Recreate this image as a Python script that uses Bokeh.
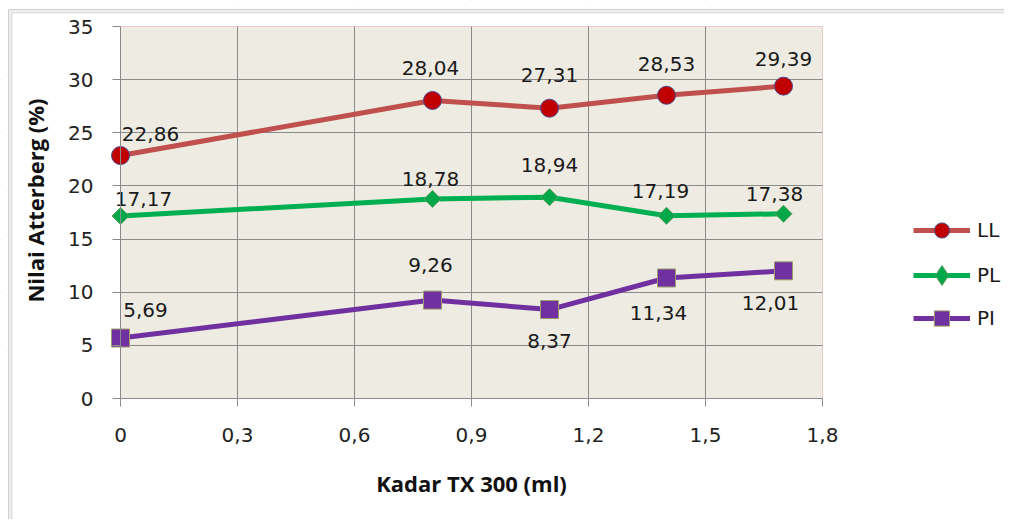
from bokeh.plotting import figure
from bokeh.models import (ColumnDataSource, FixedTicker, Legend, LegendItem, Range1d,
                          BoxAnnotation, LinearAxis)
from bokeh.embed import file_html
from bokeh.resources import INLINE
from bokeh.core.properties import value
import math

# ---- data ----
kadar = [0, 0.8, 1.1, 1.4, 1.7]
LL = [22.86, 28.04, 27.31, 28.53, 29.39]
PL = [17.17, 18.78, 18.94, 17.19, 17.38]
PI = [5.69, 9.26, 8.37, 11.34, 12.01]
x_ticks = [0, 0.3, 0.6, 0.9, 1.2, 1.5, 1.8]
x_tick_labels = ["0", "0,3", "0,6", "0,9", "1,2", "1,5", "1,8"]
y_ticks = [0, 5, 10, 15, 20, 25, 30, 35]
X_MIN, X_MAX, Y_MIN, Y_MAX = 0, 1.8, 0, 35

# label placement (pixel offsets, layout only)
LL_off = [(30, -22), (-2, -32), (0, -33), (0, -31), (0, -27)]
PL_off = [(23, -17), (-2, -20), (0, -32), (-6, -25), (-9, -20)]
PI_off = [(25, -28), (-2, -35), (0, 31), (-8, 35), (-13, 32)]

def fmt(v):
    return f"{v:.2f}".replace(".", ",")

# ---- layout geometry (canvas pixels) ----
W, H = 1004, 519
PLOT_L, PLOT_R = 120, 822
PLOT_T, PLOT_B = 26, 398
kx = (PLOT_R - PLOT_L) / (X_MAX - X_MIN)
ky = (PLOT_B - PLOT_T) / (Y_MAX - Y_MIN)
x0 = X_MIN - PLOT_L / kx
x1 = x0 + W / kx
y0 = Y_MIN - (H - PLOT_B) / ky
y1 = y0 + H / ky

p = figure(width=W, height=H, output_backend="svg", toolbar_location=None,
           x_range=Range1d(x0, x1), y_range=Range1d(y0, y1),
           min_border=0, min_border_left=0, min_border_right=0,
           min_border_top=0, min_border_bottom=0)
p.border_fill_color = "white"
p.background_fill_color = "white"
p.outline_line_color = None

# plot-area background
p.add_layout(BoxAnnotation(left=X_MIN, right=X_MAX, bottom=Y_MIN, top=Y_MAX,
                           fill_color="#EDEBE2", fill_alpha=1, line_color=None, level="image"))

for g in (p.xgrid, p.ygrid):
    g.grid_line_color = "#8A8A8A"
    g.grid_line_width = 1
p.xgrid.ticker = FixedTicker(ticks=x_ticks[1:-1])
p.ygrid.ticker = FixedTicker(ticks=y_ticks[1:-1])

# white covers for grid line parts outside the plot area
for kw in (dict(right=X_MIN), dict(left=X_MAX), dict(top=Y_MIN), dict(bottom=Y_MAX)):
    p.add_layout(BoxAnnotation(fill_color="white", fill_alpha=1, line_color=None,
                               level="underlay", **kw))
# red plot-area border (top/right visible)
p.add_layout(BoxAnnotation(left=X_MIN, right=X_MAX, bottom=Y_MIN, top=Y_MAX,
                           fill_alpha=0, line_color="#C86060", line_width=1, level="underlay"))

# outer chart-area frame: grey double line at top and left
for dl, dt, lw, col in ((9.5, 10.5, 4, "#C8C8C8"), (8, 9, 1, "#8E8E8E"), (11.5, 12.5, 1, "#9A9A9A")):
    p.add_layout(BoxAnnotation(left=x0 + dl / kx, top=y1 - dt / ky,
                               right=x1 + 1, bottom=y0 - 1,
                               fill_alpha=0, line_color=col, line_width=lw,
                               level="underlay"))

p.xaxis.ticker = FixedTicker(ticks=x_ticks)
p.xaxis.major_label_overrides = {t: l for t, l in zip(x_ticks, x_tick_labels)}
p.xaxis.bounds = (X_MIN, X_MAX)
p.xaxis.fixed_location = Y_MIN
p.yaxis.ticker = FixedTicker(ticks=y_ticks)
p.yaxis.bounds = (Y_MIN, Y_MAX)
p.yaxis.fixed_location = X_MIN
for ax in (p.xaxis, p.yaxis):
    ax.axis_line_color = "#8A8A8A"
    ax.major_tick_line_color = "#8A8A8A"
    ax.major_tick_out = 8
    ax.major_tick_in = 0
    ax.minor_tick_out = 0
    ax.minor_tick_in = 0
    ax.major_label_text_font = "DejaVu Sans"
    ax.major_label_text_font_size = "20px"
    ax.major_label_text_color = "#222222"
p.xaxis.axis_label = "Kadar TX 300 (ml)"
p.xaxis.axis_label_text_font = "Open Sans"
p.xaxis.axis_label_text_font_style = "bold"
p.xaxis.axis_label_text_font_size = "22px"
p.xaxis.axis_label_text_color = "#111111"
p.yaxis.major_label_standoff = 19
p.xaxis.major_label_standoff = 21
p.xaxis.axis_label_standoff = 23

# y-axis title carried by a tick-less axis so it can sit a little higher, as in the chart
title_axis = LinearAxis(fixed_location=X_MIN, bounds=(Y_MIN, Y_MAX + 2.3),
                        ticker=FixedTicker(ticks=[]), axis_line_color=None,
                        major_tick_out=0, major_tick_in=0, minor_tick_out=0, minor_tick_in=0,
                        axis_label="Nilai Atterberg (%)", axis_label_standoff=71,
                        axis_label_text_font="Open Sans", axis_label_text_font_style="bold",
                        axis_label_text_font_size="22px", axis_label_text_color="#111111")
p.add_layout(title_axis, "left")

series = [
    # name, values, line colour, marker, size, angle, fill, outline, label offsets, legend marker
    ("LL", LL, "#C0504D", "circle", 18, 0, "#C00000", "#4F4A8C", LL_off, "circle"),
    ("PL", PL, "#00B050", "square", 12, math.pi / 4, "#00A84A", "#5E9E5E", PL_off, "diamond"),
    ("PI", PI, "#7030A0", "square", 18, 0, "#7030A0", "#9C9C6C", PI_off, "square"),
]
# legend rows: centre y in canvas pixels (from top) and glyph box height
legend_rows = [(230, 38), (275, 50), (318, 38)]
LEG_L = 913

for (name, vals, lc, marker, size, ang, fc, oc, offs, lmarker), (cy, gh) in zip(series, legend_rows):
    src = ColumnDataSource(dict(x=kadar, y=vals, t=[fmt(v) for v in vals],
                                dx=[o[0] for o in offs], dy=[o[1] for o in offs]))
    ln = p.line("x", "y", source=src, line_color=lc, line_width=5)
    rend = [ln]
    if lmarker != marker:
        # marker used only for the legend entry, hidden beneath the real markers
        rend.append(p.scatter("x", "y", source=src, marker=lmarker, size=size * 1.2,
                              fill_color=fc, line_color=oc, line_width=1))
    sc = p.scatter("x", "y", source=src, marker=marker, size=size, angle=ang,
                   fill_color=fc, line_color=oc, line_width=1)
    if lmarker == marker:
        rend.append(sc)
    p.text("x", "y", text="t", source=src, x_offset="dx", y_offset="dy",
           text_align="center", text_baseline="middle",
           text_font=value("DejaVu Sans"), text_font_size="20px", text_color="#1A1A1A")
    leg = Legend(items=[LegendItem(label=name, renderers=rend)],
                 location=(LEG_L, H - cy - gh / 2), padding=0, margin=0,
                 glyph_width=57, glyph_height=gh, label_height=gh, spacing=0,
                 label_standoff=7, label_text_font="DejaVu Sans", label_text_font_size="20px",
                 label_text_color="#1A1A1A", border_line_color=None, background_fill_alpha=0)
    p.add_layout(leg, "center")

open("out.html", "w").write(file_html(p, INLINE))
